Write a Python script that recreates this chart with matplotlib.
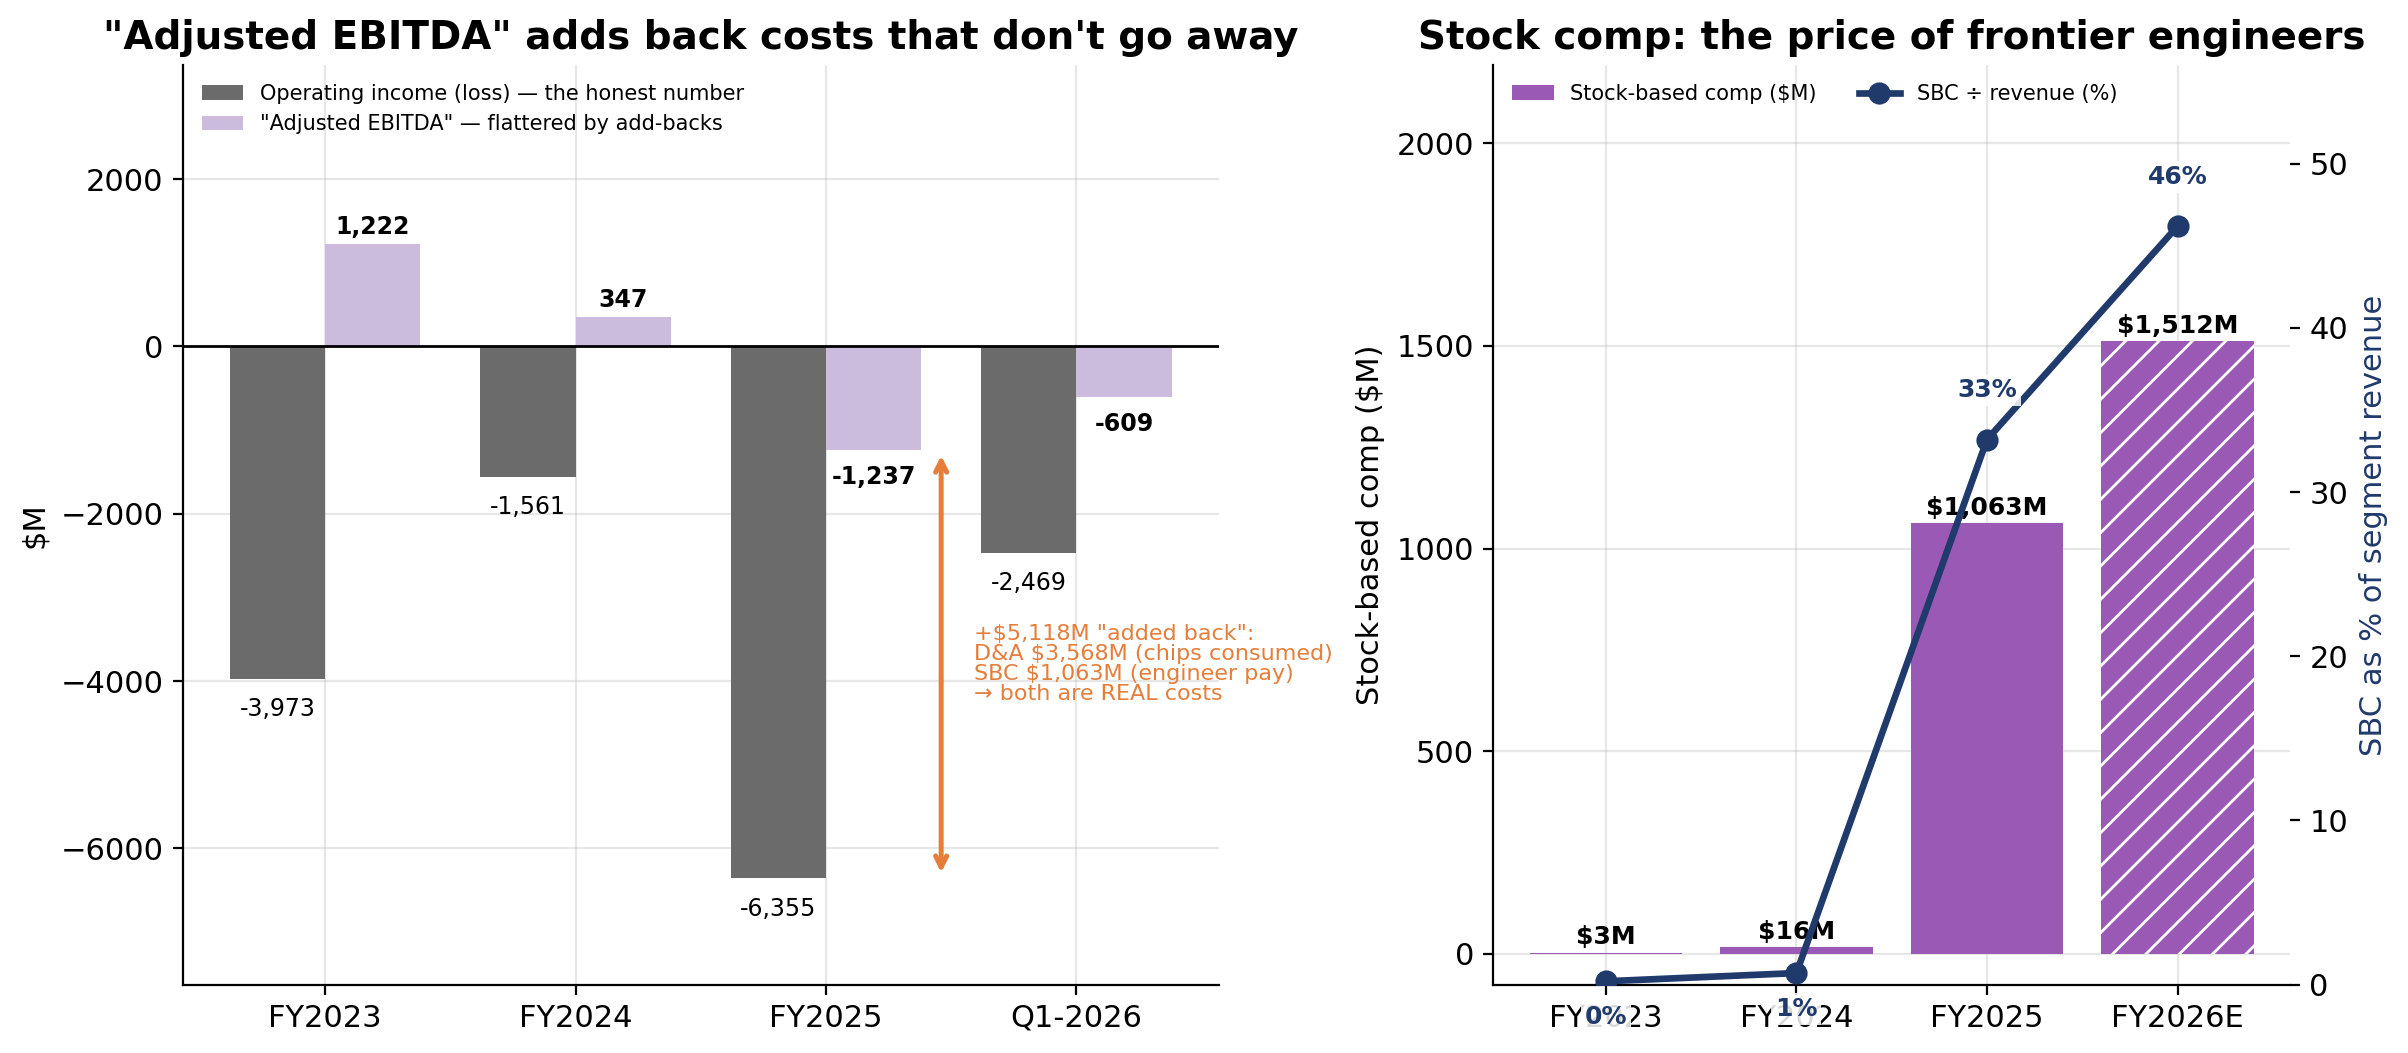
import numpy as np
import matplotlib
matplotlib.use("Agg")
import matplotlib.pyplot as plt

# ─── Data ─────────────────────────────────────────────────────────────────────
periods_l = ["FY2023", "FY2024", "FY2025", "Q1-2026"]
op_income = [-3973, -1561, -6355, -2469]
adj_ebitda = [1222, 347, -1237, -609]

periods_r = ["FY2023", "FY2024", "FY2025", "FY2026E"]
sbc = [3, 16, 1063, 1512]
sbc_pct = [0.2, 0.7, 33.2, 46.2]

GRAY = "#6b6b6b"
LAV = "#cbbcde"
ORANGE = "#e67e3b"
PURPLE = "#9b59b6"
NAVY = "#1f3a6b"

fig, (ax1, ax2) = plt.subplots(1, 2, figsize=(12.04, 5.265),
                               gridspec_kw={"width_ratios": [1.3, 1]})
fig.subplots_adjust(left=0.076, right=0.951, top=0.938, bottom=0.065, wspace=0.30)

# ─── Left: operating income vs adjusted EBITDA ───────────────────────────────
x = np.arange(len(periods_l))
w = 0.38
ax1.bar(x - w / 2, op_income, w, color=GRAY,
        label="Operating income (loss) — the honest number")
ax1.bar(x + w / 2, adj_ebitda, w, color=LAV,
        label='"Adjusted EBITDA" — flattered by add-backs')
ax1.axhline(0, color="black", lw=1)

for xi, v in zip(x, op_income):
    ax1.text(xi - w / 2, v - 220, f"{v:,}", ha="center", va="top", fontsize=8.5)
for xi, v in zip(x, adj_ebitda):
    if v >= 0:
        ax1.text(xi + w / 2, v + 60, f"{v:,}", ha="center", va="bottom",
                 fontsize=8.5, fontweight="bold")
    else:
        ax1.text(xi + w / 2, v - 180, f"{v:,}", ha="center", va="top",
                 fontsize=8.5, fontweight="bold")

# add-back arrow for FY2025
gap = adj_ebitda[2] - op_income[2]
ax1.annotate("", xy=(2.46, op_income[2]), xytext=(2.46, adj_ebitda[2]),
             arrowprops=dict(arrowstyle="<->", color=ORANGE, lw=1.8))
ax1.text(2.59, (adj_ebitda[2] + op_income[2]) / 2,
         f'+${gap:,}M "added back":\nD&A $3,568M (chips consumed)\n'
         'SBC $1,063M (engineer pay)\n→ both are REAL costs',
         color=ORANGE, fontsize=8, va="center", ha="left", linespacing=1.0)

ax1.set_xticks(x)
ax1.set_xticklabels(periods_l, fontsize=11)
ax1.tick_params(axis="y", labelsize=11)
ax1.set_ylim(-7626, 3360)
ax1.set_ylabel("$M", fontsize=11)
ax1.set_title('"Adjusted EBITDA" adds back costs that don\'t go away',
              fontsize=14, fontweight="bold")
ax1.grid(alpha=0.3)
ax1.set_axisbelow(True)
ax1.spines["top"].set_visible(False)
ax1.spines["right"].set_visible(False)
ax1.legend(loc="upper left", frameon=False, fontsize=7.5)

# ─── Right: stock-based comp ─────────────────────────────────────────────────
xr = np.arange(len(periods_r))
bars = ax2.bar(xr, sbc, 0.8, color=PURPLE, label="Stock-based comp ($M)")
bars[-1].set_hatch("//")
bars[-1].set_edgecolor("white")
bars[-1].set_linewidth(0)
for xi, v in zip(xr, sbc):
    ax2.text(xi, v + 8, f"${v:,}M", ha="center", va="bottom",
             fontsize=9, fontweight="bold")

ax2.set_ylim(-75.6, 1512 * 1.45)
ax2.set_xticks(xr)
ax2.set_xticklabels(periods_r, fontsize=11)
ax2.tick_params(axis="y", labelsize=11)
ax2.set_ylabel("Stock-based comp ($M)", fontsize=11)
ax2.set_title("Stock comp: the price of frontier engineers",
              fontsize=14, fontweight="bold")
ax2.grid(alpha=0.3)
ax2.set_axisbelow(True)
ax2.spines["top"].set_visible(False)
ax2.spines["right"].set_visible(False)

ax3 = ax2.twinx()
ax3.plot(xr, sbc_pct, color=NAVY, lw=2.4, marker="o", markersize=7,
         label="SBC ÷ revenue (%)")
for xi, v in zip(xr, sbc_pct):
    yy = v + 3 if v > 5 else v - 2.2
    ax3.text(xi, yy, f"{v:.0f}%", ha="center", va="center", fontsize=9,
             fontweight="bold", color=NAVY, clip_on=False,
             bbox=dict(boxstyle="square,pad=0.15", fc="white", ec="none", alpha=0.85))
ax3.set_ylim(0, 56)
ax3.set_ylabel("SBC as % of segment revenue", color=NAVY, fontsize=11)
ax3.tick_params(axis="y", labelsize=11)
for s in ["top", "right", "left", "bottom"]:
    ax3.spines[s].set_visible(False)

h1, l1 = ax2.get_legend_handles_labels()
h2, l2 = ax3.get_legend_handles_labels()
ax2.legend(h1 + h2, l1 + l2, loc="upper left", ncol=2, frameon=False, fontsize=7.5)

plt.savefig("out.png", dpi=200)
